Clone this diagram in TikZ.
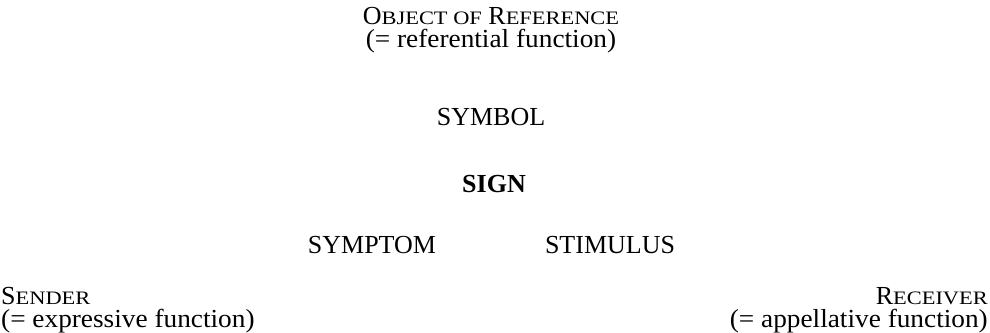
\documentclass[tikz,border=0pt]{standalone}
\usepackage{fontspec}
\setmainfont{Liberation Serif}
\newfontfamily\scfont[FakeStretch=1.18]{Liberation Serif}
\newfontfamily\fnfont[FakeStretch=1.05]{Liberation Serif}
\newcommand{\smallcap}[1]{{\scfont\fontsize{19pt}{23pt}\selectfont #1}}
\newcommand{\fnline}[1]{{\fnfont #1}}

\begin{document}
\begin{tikzpicture}[
    x=1pt, y=-1pt,
    font={\fontsize{26pt}{23pt}\selectfont},
    lbl/.style={inner sep=0pt, anchor=base},
    lbll/.style={lbl, anchor=base west, align=left},
    lblr/.style={lbl, anchor=base east, align=right}
  ]
  \useasboundingbox (0,0) rectangle (990,332);

  %% ── Object of reference ──
  \node[lbl, align=center] (obj) at (491,47)
      {O\smallcap{BJECT OF} R\smallcap{EFERENCE}\\
       \fnline{(= referential function)}};

  %% ── Centre ──
  \node[lbl] (symbol)   at (491,125) {SYMBOL};
  \node[lbl] (sign)     at (494,192) {\textbf{SIGN}};
  \node[lbl] (symptom)  at (372,253) {SYMPTOM};
  \node[lbl] (stimulus) at (610,253) {STIMULUS};

  %% ── Sender / Receiver ──
  \node[lbll] (sender) at (1,327)
      {S\smallcap{ENDER}\\ \fnline{(= expressive function)}};
  \node[lblr] (recv)   at (988,327)
      {R\smallcap{ECEIVER}\\ \fnline{(= appellative function)}};

\end{tikzpicture}
\end{document}
